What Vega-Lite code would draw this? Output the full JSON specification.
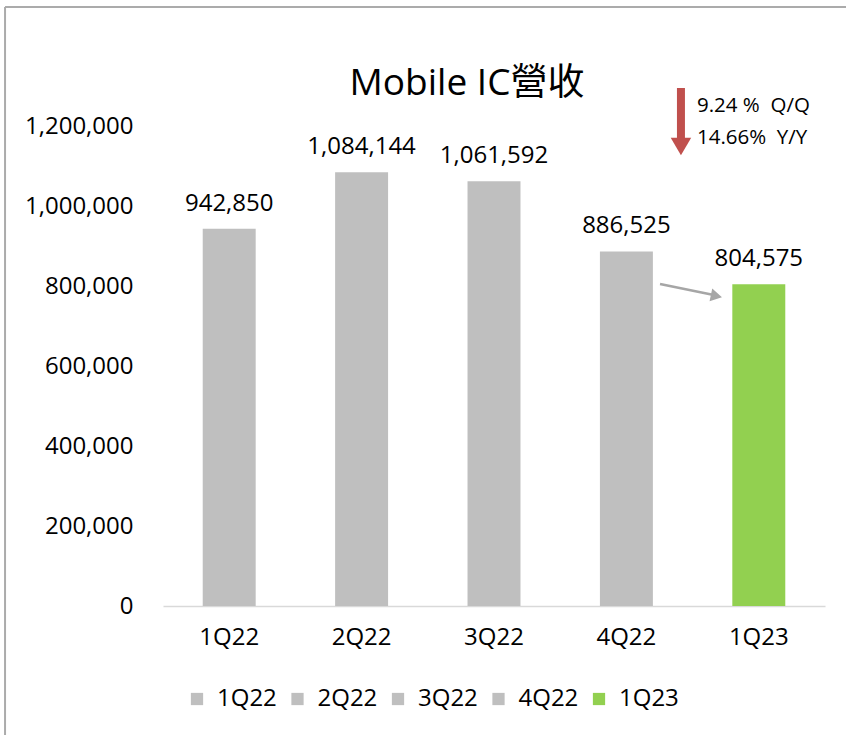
{
  "$schema": "https://vega.github.io/schema/vega-lite/v6.json",
  "width": 662,
  "height": 480,
  "autosize": "none",
  "padding": {"left": 163, "top": 126, "right": 21, "bottom": 129},
  "background": "white",
  "config": {
    "font": "Open Sans",
    "view": {"stroke": null}
  },
  "resolve": {"scale": {"x": "independent", "y": "independent"}},
  "layer": [
    {
      "data": {
        "values": [
          {"Q": "1Q22", "revenue": 942850, "label": "942,850"},
          {"Q": "2Q22", "revenue": 1084144, "label": "1,084,144"},
          {"Q": "3Q22", "revenue": 1061592, "label": "1,061,592"},
          {"Q": "4Q22", "revenue": 886525, "label": "886,525"},
          {"Q": "1Q23", "revenue": 804575, "label": "804,575"}
        ]
      },
      "encoding": {
        "x": {
          "field": "Q",
          "type": "nominal",
          "sort": null,
          "scale": {"paddingInner": 0.6, "paddingOuter": 0.3},
          "axis": {
            "title": null,
            "labelAngle": 0,
            "labelFontSize": 24,
            "labelColor": "#000000",
            "labelPadding": 19,
            "ticks": false,
            "tickSize": 0,
            "domainColor": "#D9D9D9",
            "domainWidth": 1.5
          }
        },
        "y": {
          "field": "revenue",
          "type": "quantitative",
          "scale": {"domain": [0, 1200000], "nice": false},
          "axis": {
            "title": null,
            "values": [0, 200000, 400000, 600000, 800000, 1000000, 1200000],
            "format": ",d",
            "labelFontSize": 24,
            "labelColor": "#000000",
            "labelPadding": 30,
            "ticks": false,
            "tickSize": 0,
            "domain": false,
            "grid": false
          }
        }
      },
      "layer": [
        {
          "mark": {"type": "bar"},
          "encoding": {
            "color": {
              "field": "Q",
              "type": "nominal",
              "sort": null,
              "scale": {
                "domain": ["1Q22", "2Q22", "3Q22", "4Q22", "1Q23"],
                "range": ["#BFBFBF", "#BFBFBF", "#BFBFBF", "#BFBFBF", "#92D050"]
              },
              "legend": {
                "title": null,
                "orient": "none",
                "direction": "horizontal",
                "legendX": 22,
                "legendY": 561,
                "symbolType": "square",
                "symbolSize": 150,
                "symbolStrokeWidth": 0,
                "labelFontSize": 24,
                "labelColor": "#000000",
                "labelOffset": 8,
                "columnPadding": 8.5
              }
            }
          }
        },
        {
          "mark": {"type": "text", "fontSize": 24, "color": "#000000", "baseline": "alphabetic", "dy": -18},
          "encoding": {"text": {"field": "label"}}
        }
      ]
    },
    {
      "encoding": {
        "x": {"field": "x", "type": "quantitative", "scale": {"domain": [0, 5], "nice": false, "zero": false}, "axis": null},
        "y": {"field": "y", "type": "quantitative", "scale": {"domain": [0, 1200000], "nice": false}, "axis": null}
      },
      "layer": [
        {
          "data": {"values": [{"x": -1.193, "y": 1497500, "x2": 5.4, "y2": 1497500}, {"x": -1.193, "y": 1497500, "x2": -1.193, "y2": -340000}]},
          "mark": {"type": "rule", "color": "#ABABAB", "strokeWidth": 2, "clip": false},
          "encoding": {"x2": {"field": "x2"}, "y2": {"field": "y2"}}
        },
        {
          "data": {"values": [{"x": 2.296, "y": 1305000, "title": "Mobile IC營收"}]},
          "mark": {"type": "text", "font": "Open Sans, Noto Sans CJK TC", "fontSize": 37, "color": "#000000", "align": "center", "baseline": "middle", "clip": false},
          "encoding": {"text": {"field": "title"}}
        },
        {
          "data": {"values": [{"x": 3.912, "y": 1295000, "x2": 3.912, "y2": 1160000}]},
          "mark": {"type": "rule", "color": "#C0504D", "strokeWidth": 8, "clip": false},
          "encoding": {"x2": {"field": "x2"}, "y2": {"field": "y2"}}
        },
        {
          "data": {"values": [{"x": 3.912, "y": 1148750}]},
          "mark": {"type": "point", "shape": "triangle-down", "size": 420, "filled": true, "opacity": 1, "color": "#C0504D", "clip": false}
        },
        {
          "data": {"values": [{"x": 3.754, "y": 805000, "x2": 4.16, "y2": 777500}]},
          "mark": {"type": "rule", "color": "#A6A6A6", "strokeWidth": 2.5, "clip": false},
          "encoding": {"x2": {"field": "x2"}, "y2": {"field": "y2"}}
        },
        {
          "data": {"values": [{"x": 4.18, "y": 775000}]},
          "mark": {"type": "point", "shape": "triangle-right", "size": 170, "angle": 12, "filled": true, "opacity": 1, "color": "#A6A6A6", "clip": false}
        },
        {
          "data": {
            "values": [
              {"x": 4.033, "y": 1250000, "note": "9.24 %\u00a0 Q/Q"},
              {"x": 4.033, "y": 1170000, "note": "14.66%\u00a0 Y/Y"}
            ]
          },
          "mark": {"type": "text", "align": "left", "baseline": "middle", "fontSize": 20.5, "color": "#000000", "clip": false},
          "encoding": {"text": {"field": "note"}}
        }
      ]
    }
  ]
}
